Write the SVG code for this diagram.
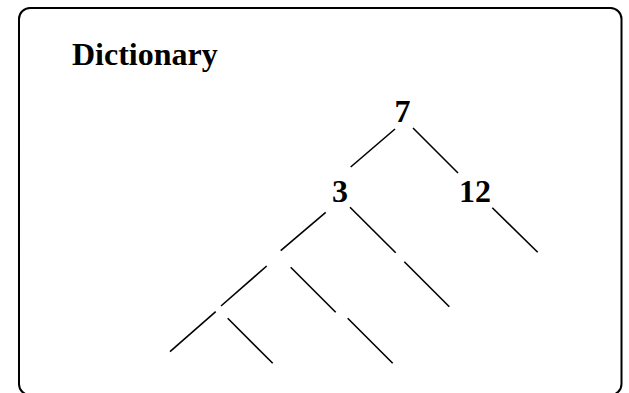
<svg xmlns="http://www.w3.org/2000/svg" width="629" height="393" viewBox="0 0 629 393">
<style>
.frame{fill:none;stroke:#000;stroke-width:2}
.lbl{font-family:"Liberation Serif","Times New Roman",serif;font-weight:bold;font-size:32px;fill:#000}
.num{text-anchor:middle}
.edge{stroke:#000;stroke-width:1.6;fill:none;stroke-linecap:butt}
</style>
<rect class="frame" x="19" y="8" width="602.5" height="387" rx="11" ry="11"/>
<g id="title"><text class="lbl" x="72" y="65">Dictionary</text></g>
<g id="n7"><text class="lbl num" x="402.5" y="122">7</text></g>
<g id="n3"><text class="lbl num" x="340" y="202">3</text></g>
<g id="n12"><text class="lbl num" x="475" y="202">12</text></g>
<g id="connectors">
<line class="edge" x1="395" y1="129" x2="350.7" y2="167"/>
<line class="edge" x1="413" y1="128" x2="458" y2="173"/>
<line class="edge" x1="492.3" y1="207.7" x2="537.7" y2="252.3"/>
<line class="edge" x1="325.7" y1="212.3" x2="280.7" y2="250.7"/>
<line class="edge" x1="350" y1="207.3" x2="395.7" y2="252.7"/>
<line class="edge" x1="404.3" y1="261.7" x2="449.3" y2="306.7"/>
<line class="edge" x1="290.7" y1="267.3" x2="335.7" y2="312.3"/>
<line class="edge" x1="347.7" y1="318.3" x2="392.7" y2="363.3"/>
<line class="edge" x1="266.7" y1="266" x2="221" y2="306"/>
<line class="edge" x1="215.7" y1="311.7" x2="170" y2="351.7"/>
<line class="edge" x1="227.7" y1="318.3" x2="272.7" y2="363.3"/>
</g>
</svg>
